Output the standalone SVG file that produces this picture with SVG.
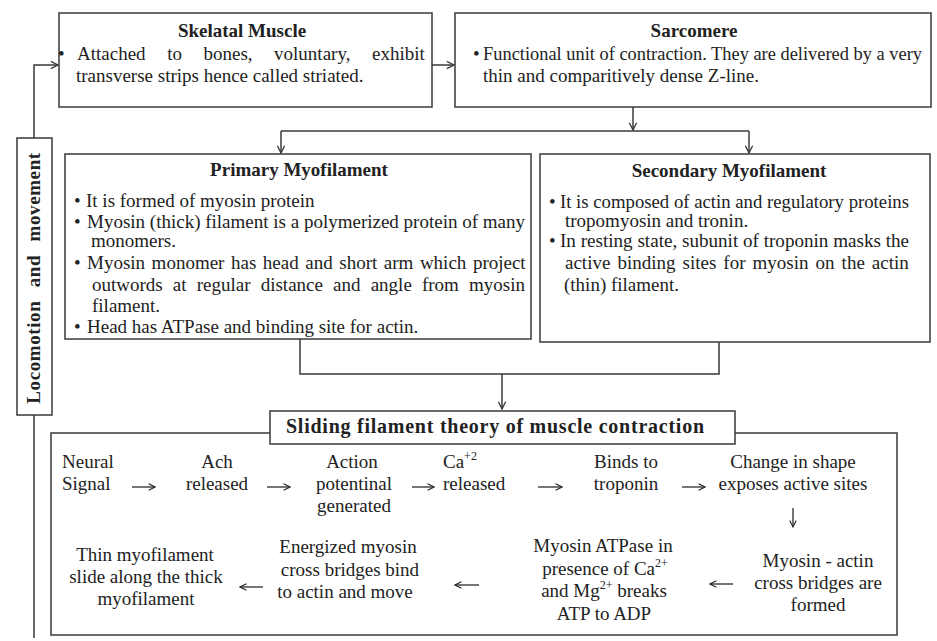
<svg xmlns="http://www.w3.org/2000/svg" width="937" height="641" viewBox="0 0 937 641">
<style>
.box{fill:#fff;stroke:#3a3a3a;stroke-width:1.5}
.frame{fill:none;stroke:#3a3a3a;stroke-width:1.5}
.ln{fill:none;stroke:#3a3a3a;stroke-width:1.5}
.sa{fill:none;stroke:#2a2a2a;stroke-width:1.3}
.t{font-family:"Liberation Serif","Times New Roman",serif;font-size:19px;fill:#222}
.b{font-weight:bold}
.m{text-anchor:middle}
</style>
<defs>
<marker id="ah" viewBox="0 0 10 10" refX="9" refY="5" markerWidth="9" markerHeight="9" markerUnits="userSpaceOnUse" orient="auto">
<path d="M1,1 L9,5 L1,9" fill="none" stroke="#3a3a3a" stroke-width="1.5"/>
</marker>
<marker id="sh" viewBox="0 0 10 10" refX="9" refY="5" markerWidth="8" markerHeight="8" markerUnits="userSpaceOnUse" orient="auto">
<path d="M1,1 L9,5 L1,9" fill="none" stroke="#2a2a2a" stroke-width="1.4"/>
</marker>
</defs>
<rect width="937" height="641" fill="#fff"/>
<g id="sliding">
<rect class="frame" x="51" y="433" width="846" height="202"/>
<rect class="box" x="270" y="411" width="465" height="33"/>
<text class="t b" x="286" y="433" style="font-size:20px" textLength="418" lengthAdjust="spacing">Sliding filament theory of muscle contraction</text>
</g>
<g id="connectors">
<path class="ln" d="M34,638 V65 H58" marker-end="url(#ah)"/>
<path class="ln" d="M432,65 H454" marker-end="url(#ah)"/>
<path class="ln" d="M633,107 V130" marker-end="url(#ah)"/>
<path class="ln" d="M281,131 H749"/>
<path class="ln" d="M281,131 V153" marker-end="url(#ah)"/>
<path class="ln" d="M749,131 V153" marker-end="url(#ah)"/>
<path class="ln" d="M300,339 V374 H719 V342"/>
<path class="ln" d="M502,374 V409" marker-end="url(#ah)"/>
<path class="sa" d="M132,487 H155" marker-end="url(#sh)"/>
<path class="sa" d="M267,487 H290" marker-end="url(#sh)"/>
<path class="sa" d="M412,487 H434" marker-end="url(#sh)"/>
<path class="sa" d="M538,487 H562" marker-end="url(#sh)"/>
<path class="sa" d="M682,487 H705" marker-end="url(#sh)"/>
<path class="sa" d="M793,508 V527" marker-end="url(#sh)"/>
<path class="sa" d="M733,584 H710" marker-end="url(#sh)"/>
<path class="sa" d="M479,585 H455" marker-end="url(#sh)"/>
<path class="sa" d="M263,587 H240" marker-end="url(#sh)"/>
</g>
<g id="locomotion">
<rect class="box" x="17" y="138" width="35" height="277"/>
<text class="t b m" transform="translate(40,278) rotate(-90)" style="letter-spacing:0.6px;word-spacing:8px">Locomotion and movement</text>
</g>
<g id="skeletal">
<rect class="box" x="59" y="13" width="373" height="94"/>
<text class="t b m" x="242" y="37">Skelatal Muscle</text>
<text class="t" x="58" y="60">•</text>
<text class="t" x="77" y="60" style="word-spacing:16.8px">Attached to bones, voluntary, exhibit</text>
<text class="t" x="76" y="82">transverse strips hence called striated.</text>
</g>
<g id="sarcomere">
<rect class="box" x="455" y="13" width="476" height="94"/>
<text class="t b m" x="694" y="37">Sarcomere</text>
<text class="t" x="473" y="60">•</text>
<text class="t" x="483" y="60" textLength="439" lengthAdjust="spacingAndGlyphs">Functional unit of contraction. They are delivered by a very</text>
<text class="t" x="483" y="82">thin and comparitively dense Z-line.</text>
</g>
<g id="primary">
<rect class="box" x="65" y="154" width="466" height="185"/>
<text class="t b m" x="299" y="176">Primary Myofilament</text>
<text class="t" x="74" y="207">•</text>
<text class="t" x="86" y="207">It is formed of myosin protein</text>
<text class="t" x="74" y="228">•</text>
<text class="t" x="87" y="228" textLength="438" lengthAdjust="spacingAndGlyphs">Myosin (thick) filament is a polymerized protein of many</text>
<text class="t" x="91" y="247">monomers.</text>
<text class="t" x="74" y="269">•</text>
<text class="t" x="87" y="269" style="word-spacing:1.8px">Myosin monomer has head and short arm which project</text>
<text class="t" x="92" y="291" style="word-spacing:5.4px">outwords at regular distance and angle from myosin</text>
<text class="t" x="92" y="312">filament.</text>
<text class="t" x="74" y="333">•</text>
<text class="t" x="87" y="333">Head has ATPase and binding site for actin.</text>
</g>
<g id="secondary">
<rect class="box" x="540" y="154" width="390" height="188"/>
<text class="t b m" x="729" y="177">Secondary Myofilament</text>
<text class="t" x="549" y="208">•</text>
<text class="t" x="560" y="208" textLength="349" lengthAdjust="spacingAndGlyphs">It is composed of actin and regulatory proteins</text>
<text class="t" x="565" y="227">tropomyosin and tronin.</text>
<text class="t" x="549" y="247">•</text>
<text class="t" x="560" y="247" textLength="349" lengthAdjust="spacingAndGlyphs">In resting state, subunit of troponin masks the</text>
<text class="t" x="565" y="269" style="word-spacing:2.3px">active binding sites for myosin on the actin</text>
<text class="t" x="564" y="291">(thin) filament.</text>
</g>
<g id="neural">
<text class="t" x="62" y="468">Neural</text>
<text class="t" x="62" y="490">Signal</text>
</g>
<g id="ach">
<text class="t m" x="217" y="468">Ach</text>
<text class="t m" x="217" y="490">released</text>
</g>
<g id="action">
<text class="t m" x="352" y="468">Action</text>
<text class="t m" x="354" y="490">potentinal</text>
<text class="t m" x="354" y="512">generated</text>
</g>
<g id="calcium">
<text class="t" x="443" y="468">Ca<tspan font-size="12" dy="-8">+2</tspan></text>
<text class="t" x="443" y="490">released</text>
</g>
<g id="troponin">
<text class="t m" x="626" y="468">Binds to</text>
<text class="t m" x="626" y="490">troponin</text>
</g>
<g id="shape">
<text class="t m" x="793" y="468">Change in shape</text>
<text class="t m" x="793" y="490">exposes active sites</text>
</g>
<g id="crossbridges">
<text class="t m" x="818" y="567">Myosin - actin</text>
<text class="t m" x="818" y="589">cross bridges are</text>
<text class="t m" x="818" y="611">formed</text>
</g>
<g id="atpase">
<text class="t m" x="603" y="552">Myosin ATPase in</text>
<text class="t m" x="605" y="575">presence of Ca<tspan font-size="12" dy="-8">2+</tspan></text>
<text class="t m" x="604" y="597">and Mg<tspan font-size="12" dy="-8">2+</tspan><tspan dy="8"> breaks</tspan></text>
<text class="t m" x="604" y="620">ATP to ADP</text>
</g>
<g id="energized">
<text class="t m" x="348" y="553">Energized myosin</text>
<text class="t m" x="350" y="576">cross bridges bind</text>
<text class="t m" x="345" y="598">to actin and move</text>
</g>
<g id="thin">
<text class="t m" x="145" y="561">Thin myofilament</text>
<text class="t m" x="146" y="583">slide along the thick</text>
<text class="t m" x="146" y="605">myofilament</text>
</g>
</svg>
